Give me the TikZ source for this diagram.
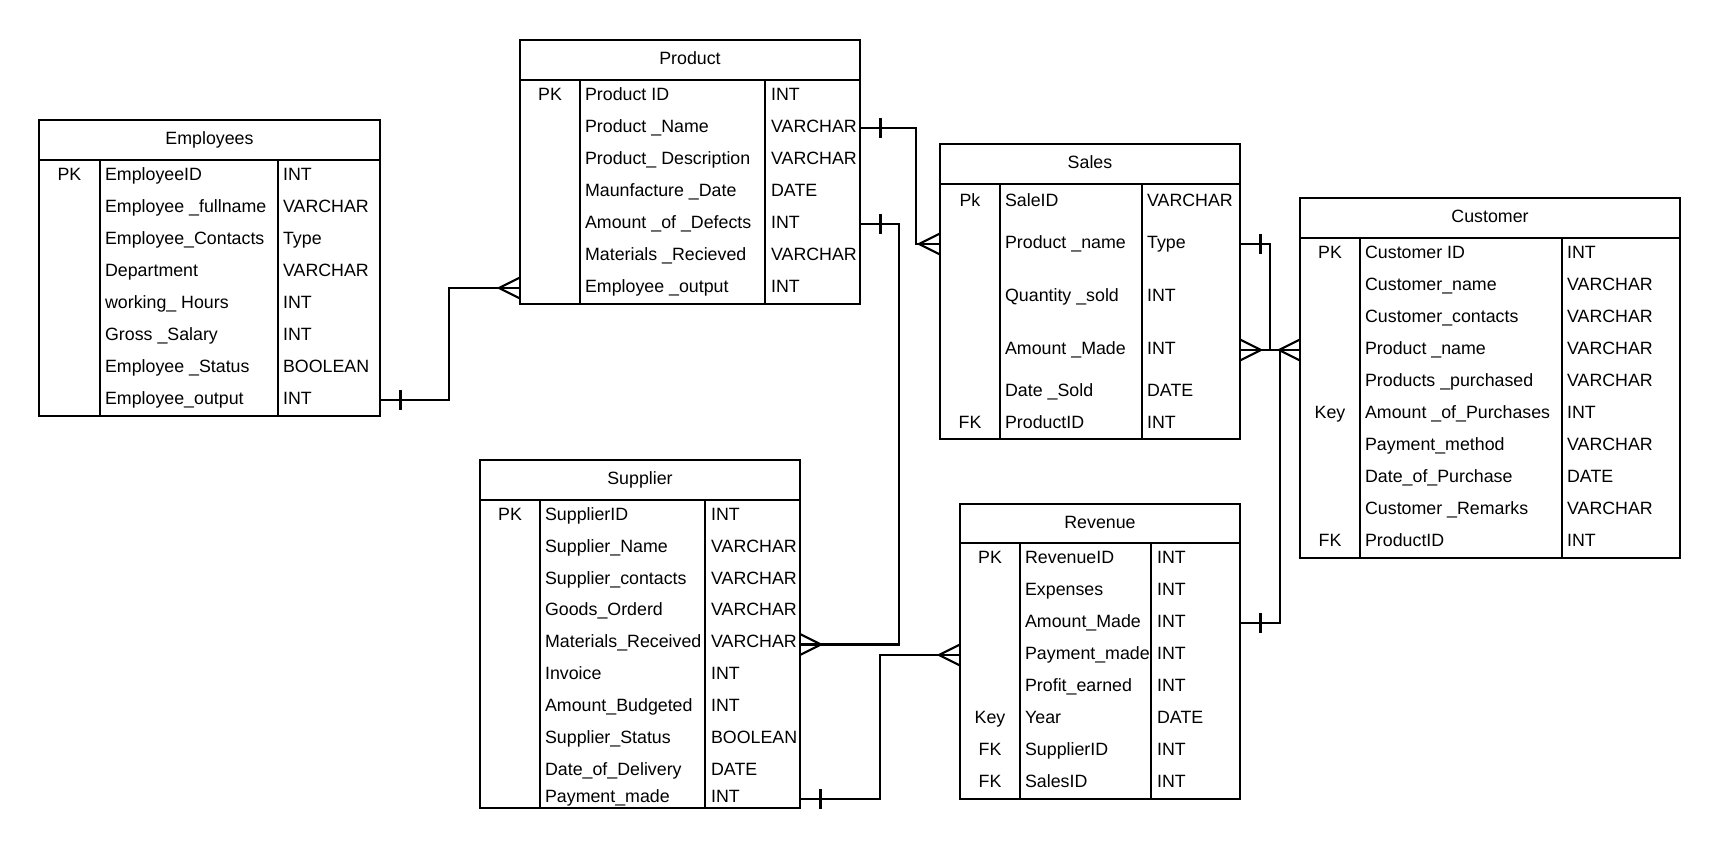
\documentclass[tikz,border=0pt]{standalone}
\usepackage{fontspec}
\setmainfont{Liberation Sans}
\usetikzlibrary{calc, decorations.markings}

\begin{document}
\begin{tikzpicture}[
    x=0.5pt, y=-0.5pt,
    line width=1.1pt,
    tab/.style={draw, line width=1.2pt},
    title/.style={inner sep=0pt, text height=6.5pt, text depth=1.9pt, font={\fontsize{8.9}{10}\selectfont}},
    rowbox/.style={inner sep=0pt, outer sep=0pt, minimum height=1pt},
    cell/.style={inner sep=0pt, anchor=base west, font={\fontsize{8.9}{10}\selectfont}},
    keycell/.style={cell, anchor=base},
    one/.style={postaction={decorate, decoration={markings, mark=at position 10.25pt with {\draw (0,-10) -- (0,10);}}}},
    many/.style={postaction={decorate, decoration={markings, mark=at position 1 with {\draw (0,-10.5) -- (-21,0) -- (0,10.5);}}}},
    manyfrom/.style={postaction={decorate, decoration={markings, mark=at position 0 with {\draw (0,-10.5) -- (21,0) -- (0,10.5);}}}}
]
\useasboundingbox (0,0) rectangle (1720,848);

% Employees
\draw[tab] (39,120) rectangle (380,416) (39,160) -- (380,160) (100,160) -- (100,416) (278,160) -- (278,416);
\node[title] (emp) at (209.5,140) {Employees};
\foreach \kk/\fld/\typ [count=\i] in {PK/EmployeeID/INT, /Employee \_fullname/VARCHAR, /Employee\_Contacts/Type, /Department/VARCHAR, /working\_ Hours/INT, /Gross \_Salary/INT, /Employee \_Status/BOOLEAN, /Employee\_output/INT}{
  \node[rowbox, minimum width=170.5pt] (emp-\i) at (209.5,{144+32*\i}) {};
  \node[keycell] (emp-k\i) at (69.5,{148+32*\i}) {\kk};
  \node[cell] (emp-f\i) at (104,{148+32*\i}) {\fld};
  \node[cell] (emp-t\i) at (282,{148+32*\i}) {\typ};
}

% Product
\draw[tab] (520,40) rectangle (860,304) (520,80) -- (860,80) (580,80) -- (580,304) (765,80) -- (765,304);
\node[title] (prod) at (690,60) {Product};
\foreach \kk/\fld/\typ [count=\i] in {PK/Product ID/INT, /Product \_Name/VARCHAR, /Product\_ Description/VARCHAR, /Maunfacture \_Date/DATE, /Amount \_of \_Defects/INT, /Materials \_Recieved/VARCHAR, /Employee \_output/INT}{
  \node[rowbox, minimum width=170pt] (prod-\i) at (690,{64+32*\i}) {};
  \node[keycell] (prod-k\i) at (550,{68+32*\i}) {\kk};
  \node[cell] (prod-f\i) at (584,{68+32*\i}) {\fld};
  \node[cell] (prod-t\i) at (770,{68+32*\i}) {\typ};
}

% Sales
\draw[tab] (940,144) rectangle (1240,439) (940,184) -- (1240,184) (1000,184) -- (1000,439) (1142,184) -- (1142,439);
\node[title] (sales) at (1090,164) {Sales};
\foreach \kk/\fld/\typ/\yy [count=\i] in {Pk/SaleID/VARCHAR/202, /Product \_name/Type/244, /Quantity \_sold/INT/297, /Amount \_Made/INT/350, /Date \_Sold/DATE/392, FK/ProductID/INT/424}{
  \node[rowbox, minimum width=150pt] (sales-\i) at (1090,\yy) {};
  \node[keycell] (sales-k\i) at (970,{\yy+4}) {\kk};
  \node[cell] (sales-f\i) at (1004,{\yy+4}) {\fld};
  \node[cell] (sales-t\i) at (1146,{\yy+4}) {\typ};
}

% Customer
\draw[tab] (1300,198) rectangle (1680,558) (1300,238) -- (1680,238) (1360,238) -- (1360,558) (1562,238) -- (1562,558);
\node[title] (cust) at (1490,218) {Customer};
\foreach \kk/\fld/\typ [count=\i] in {PK/Customer ID/INT, /Customer\_name/VARCHAR, /Customer\_contacts/VARCHAR, /Product \_name/VARCHAR, /Products \_purchased/VARCHAR, Key/Amount \_of\_Purchases/INT, /Payment\_method/VARCHAR, /Date\_of\_Purchase/DATE, /Customer \_Remarks/VARCHAR, FK/ProductID/INT}{
  \node[rowbox, minimum width=190pt] (cust-\i) at (1490,{222+32*\i}) {};
  \node[keycell] (cust-k\i) at (1330,{226+32*\i}) {\kk};
  \node[cell] (cust-f\i) at (1364,{226+32*\i}) {\fld};
  \node[cell] (cust-t\i) at (1566,{226+32*\i}) {\typ};
}

% Supplier
\draw[tab] (480,460) rectangle (800,808) (480,500) -- (800,500) (540,500) -- (540,808) (705,500) -- (705,808);
\node[title] (sup) at (640,480) {Supplier};
\foreach \kk/\fld/\typ/\yy [count=\i] in {PK/SupplierID/INT/520, /Supplier\_Name/VARCHAR/552, /Supplier\_contacts/VARCHAR/584, /Goods\_Orderd/VARCHAR/615.5, /Materials\_Received/VARCHAR/647.5, /Invoice/INT/679.5, /Amount\_Budgeted/INT/711.5, /Supplier\_Status/BOOLEAN/743.5, /Date\_of\_Delivery/DATE/775.5, /Payment\_made/INT/802}{
  \node[rowbox, minimum width=160pt] (sup-\i) at (640,{\yy-3}) {};
  \node[keycell] (sup-k\i) at (510,\yy) {\kk};
  \node[cell] (sup-f\i) at (544,\yy) {\fld};
  \node[cell] (sup-t\i) at (710,\yy) {\typ};
}

% Revenue
\draw[tab] (960,504) rectangle (1240,799) (960,543) -- (1240,543) (1020,543) -- (1020,799) (1151,543) -- (1151,799);
\node[title] (rev) at (1100,523.5) {Revenue};
\foreach \kk/\fld/\typ [count=\i] in {PK/RevenueID/INT, /Expenses/INT, /Amount\_Made/INT, /Payment\_made/INT, /Profit\_earned/INT, Key/Year/DATE, FK/SupplierID/INT, FK/SalesID/INT}{
  \node[rowbox, minimum width=140pt] (rev-\i) at (1100,{527+32*\i}) {};
  \node[keycell] (rev-k\i) at (990,{531+32*\i}) {\kk};
  \node[cell] (rev-f\i) at (1024,{531+32*\i}) {\fld};
  \node[cell] (rev-t\i) at (1156,{531+32*\i}) {\typ};
}

% Relationships
\coordinate (jn) at ($(sales-4.east)+(30,0)$);
\coordinate (jn2) at ($(cust-4.west)+(-20,0)$);
\draw[one, many] (emp-8.east) -- ++(69,0) |- (prod-7.west);
\draw[one, many] (prod-2.east) -- ++(56,0) |- (sales-2.west);
\draw[one, many] (prod-5.east) -- ++(39,0) |- (sup-5.east);
\draw[one, many] (sup-10.east) -- ++(80,0) |- (rev-4.west);
\draw[one] (sales-2.east) -| (jn);
\draw[manyfrom, many] (sales-4.east) -- (cust-4.west);
\draw[one] (rev-3.east) -| (jn2);

\end{tikzpicture}
\end{document}
